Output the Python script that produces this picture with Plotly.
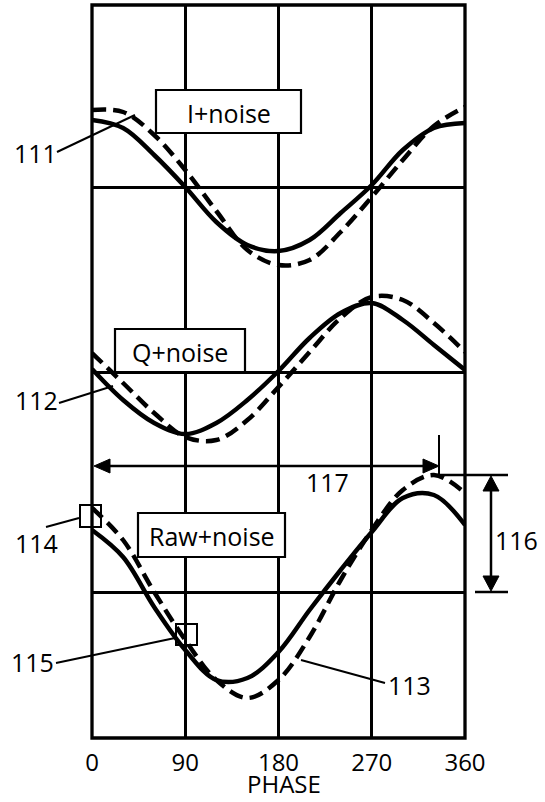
import plotly.graph_objects as go

# ---------------- data ----------------
phase_deg = [0, 30, 60, 90, 120, 150, 180, 210, 240, 270, 300, 330, 360]
phase_ticks = [0, 90, 180, 270, 360]
phase_tick_text = ["0", "90", "180", "270", "360"]

# signal levels (vertical position, drawing units measured downward)
i_noise_solid = [120, 128, 155, 187, 222, 245, 251, 240, 213, 185, 150, 128, 123]
i_noise_dashed = [110, 112, 135, 170, 211, 250, 265, 260, 232, 197, 160, 126, 107]
q_noise_solid = [369, 400, 423, 434, 423, 400, 371, 338, 313, 303, 320, 345, 370]
q_noise_dashed = [353, 383, 413, 437, 440, 420, 387, 352, 318, 297, 300, 323, 352]
raw_noise_solid = [530, 557, 607, 650, 680, 678, 652, 610, 570, 532, 498, 495, 525]
raw_noise_dashed = [508, 540, 592, 640, 680, 698, 680, 637, 580, 530, 490, 475, 493]

baseline_levels = [187, 372, 592]

box_labels = ["I+noise", "Q+noise", "Raw+noise"]
ref_labels = ["111", "112", "113", "114", "115", "116", "117"]
axis_title = "PHASE"

# ---------------- layout geometry ----------------
W, H = 545, 802
L, R, T, B = 92, 465, 5, 738
FONT = "Open Sans"
FS = 25


def px(x):
    return (x - L) / (R - L)


def py(y):
    return (B - y) / (B - T)


fig = go.Figure()

solid = dict(color="black", width=4.5)
dashed = dict(color="black", width=4.5, dash="14px,7px")
for ys, st in [
    (i_noise_solid, solid), (i_noise_dashed, dashed),
    (q_noise_solid, solid), (q_noise_dashed, dashed),
    (raw_noise_solid, solid), (raw_noise_dashed, dashed),
]:
    fig.add_trace(go.Scatter(x=phase_deg, y=ys, mode="lines",
                             line=dict(shape="spline", smoothing=1.0, **st),
                             showlegend=False, hoverinfo="skip"))

shapes = []
annotations = []

# outer frame
shapes.append(dict(type="rect", xref="paper", yref="paper", x0=0, x1=1, y0=0, y1=1,
                   line=dict(color="black", width=3.3), layer="above"))

# label boxes
box_geo = [(156, 301, 90, 133), (115, 245, 329, 372), (138, 285, 513, 557)]
for text, (x0, x1, y0, y1) in zip(box_labels, box_geo):
    shapes.append(dict(type="rect", xref="paper", yref="paper",
                       x0=px(x0), x1=px(x1), y0=py(y1), y1=py(y0),
                       fillcolor="white", line=dict(color="black", width=2.2),
                       layer="above"))
    annotations.append(dict(text=text, xref="paper", yref="paper",
                            x=px((x0 + x1) / 2), y=py((y0 + y1) / 2 + 1),
                            showarrow=False, xanchor="center", yanchor="middle",
                            font=dict(family=FONT, size=FS, color="black")))

# small squares (114, 115)
for (x0, x1, y0, y1) in [(80, 101, 505, 527), (176, 197, 624, 645)]:
    shapes.append(dict(type="rect", xref="paper", yref="paper",
                       x0=px(x0), x1=px(x1), y0=py(y1), y1=py(y0),
                       line=dict(color="black", width=2), layer="above"))


def seg(x0, y0, x1, y1, w=2):
    shapes.append(dict(type="line", xref="paper", yref="paper",
                       x0=px(x0), y0=py(y0), x1=px(x1), y1=py(y1),
                       line=dict(color="black", width=w), layer="above"))


def tri(pts):
    p = "M " + " L ".join(f"{px(a)},{py(b)}" for a, b in pts) + " Z"
    shapes.append(dict(type="path", xref="paper", yref="paper", path=p,
                       fillcolor="black", line=dict(color="black", width=1),
                       layer="above"))


# leader lines
seg(57, 152, 135, 115)      # 111
seg(59, 403, 113, 386)      # 112
seg(301, 660, 385, 683)     # 113
seg(46, 527, 79, 518)       # 114
seg(56, 663, 175, 638)      # 115

# 117 dimension arrow
seg(108, 466, 425, 466, 2.5)
tri([(94, 466), (110, 459), (110, 473)])
tri([(439, 466), (423, 459), (423, 473)])
seg(439, 435, 439, 475, 2)
seg(433, 475, 508, 475, 2.5)

# 116 dimension arrow
seg(475, 592, 508, 592, 2.5)
seg(491, 490, 491, 578, 2.5)
tri([(491, 476), (483, 491), (499, 491)])
tri([(491, 591), (483, 576), (499, 576)])

label_pos = {"111": (35, 153), "112": (36, 400), "113": (409, 685),
             "114": (36, 543), "115": (32, 662), "116": (516, 540),
             "117": (327, 482)}
for t in ref_labels:
    x, y = label_pos[t]
    annotations.append(dict(text=t, xref="paper", yref="paper", x=px(x), y=py(y),
                            showarrow=False, xanchor="center", yanchor="middle",
                            font=dict(family=FONT, size=FS, color="black")))

annotations.append(dict(text=axis_title, xref="paper", yref="paper",
                        x=px(284), y=py(802), showarrow=False,
                        xanchor="center", yanchor="bottom",
                        font=dict(family=FONT, size=24, color="black")))

fig.update_layout(
    width=W, height=H,
    margin=dict(l=L, r=W - R, t=T, b=H - B, autoexpand=False),
    paper_bgcolor="white", plot_bgcolor="white",
    shapes=shapes, annotations=annotations,
    xaxis=dict(range=[0, 360], tickvals=phase_ticks, ticktext=phase_tick_text,
               showgrid=True, gridcolor="black", gridwidth=2.7, zeroline=False,
               showline=False, ticks="", automargin=False, ticklabelstandoff=8,
               tickfont=dict(family=FONT, size=24, color="black")),
    yaxis=dict(range=[B, T], tickvals=baseline_levels, showticklabels=False,
               showgrid=True, gridcolor="black", gridwidth=2.7, zeroline=False,
               showline=False, ticks="", automargin=False),
)

fig.write_html("out.html", config={"displayModeBar": False},
               post_script="document.body.style.margin='0';document.body.style.padding='0';")
